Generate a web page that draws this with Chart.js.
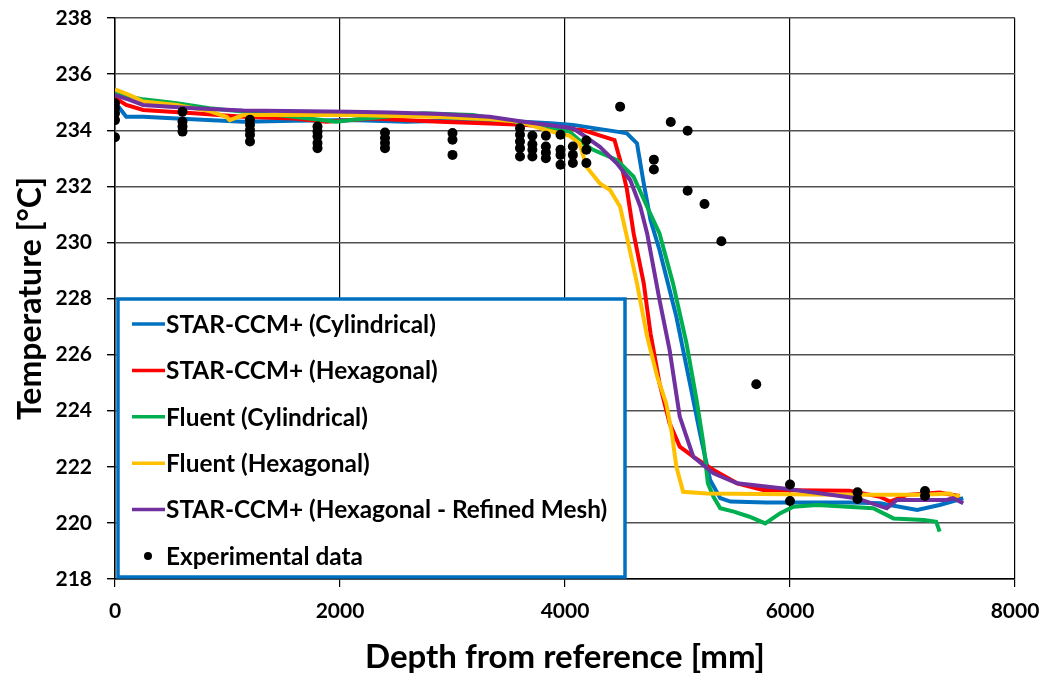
<!DOCTYPE html>
<html>
<head>
<meta charset="utf-8">
<script src="https://cdn.jsdelivr.net/npm/chart.js@4.4.1/dist/chart.umd.min.js"></script>
<style>
    html, body { margin: 0; padding: 0; background: #fff; }
    #wrap { width: 1049px; height: 680px; }
</style>
</head>
<body>
<div id="wrap"><canvas id="chart" width="1049" height="680"></canvas></div>
<script>
// STAR-CCM+ (Cylindrical)
const starCylDepth = [0, 100, 250, 550, 1140, 1590, 2090, 2590, 3190, 3630, 3870, 4070, 4460, 4550, 4640, 4700, 4760, 4840, 4990, 5110, 5200, 5290, 5380, 5470, 5790, 6530, 6800, 7130, 7330, 7540];
const starCylTemp = [235.0, 234.48, 234.48, 234.42, 234.3, 234.34, 234.36, 234.3, 234.36, 234.3, 234.25, 234.19, 233.95, 233.89, 233.53, 232.1, 230.8, 229.73, 227.35, 224.98, 223.19, 221.53, 220.88, 220.76, 220.73, 220.73, 220.7, 220.46, 220.64, 220.88];

// STAR-CCM+ (Hexagonal)
const starHexDepth = [0, 100, 250, 700, 1140, 1590, 1880, 2290, 2890, 3330, 3630, 4160, 4440, 4490, 4550, 4610, 4700, 4760, 4840, 4930, 5020, 5140, 5320, 5530, 5760, 6530, 6800, 6890, 7040, 7330, 7510];
const starHexTemp = [235.15, 234.9, 234.72, 234.6, 234.48, 234.42, 234.3, 234.42, 234.3, 234.24, 234.19, 234.0, 233.65, 232.94, 231.9, 230.32, 228.54, 226.76, 224.98, 223.55, 222.72, 222.36, 221.89, 221.41, 221.17, 221.15, 220.93, 220.76, 221.0, 221.08, 220.95];

// Fluent (Cylindrical)
const fluentCylDepth = [0, 250, 550, 840, 1290, 1590, 1970, 2090, 2740, 3180, 3480, 3780, 4040, 4160, 4250, 4460, 4610, 4730, 4840, 4960, 5080, 5170, 5230, 5270, 5320, 5380, 5500, 5640, 5780, 5910, 6030, 6240, 6740, 6920, 7190, 7300, 7330];
const fluentCylTemp = [235.3, 235.1, 234.96, 234.78, 234.6, 234.48, 234.3, 234.36, 234.6, 234.54, 234.36, 234.13, 233.95, 233.53, 233.3, 232.94, 232.34, 231.27, 230.32, 228.54, 226.4, 224.38, 222.84, 221.41, 220.93, 220.52, 220.4, 220.22, 219.98, 220.34, 220.58, 220.64, 220.52, 220.16, 220.1, 220.04, 219.69];

// Fluent (Hexagonal)
const fluentHexDepth = [0, 130, 250, 550, 840, 990, 1020, 1140, 1590, 2090, 2890, 3330, 3600, 3840, 4040, 4130, 4190, 4310, 4400, 4490, 4550, 4640, 4730, 4820, 4900, 4950, 4990, 5050, 5260, 6440, 7180, 7420, 7470, 7510];
const fluentHexTemp = [235.46, 235.25, 235.02, 234.9, 234.68, 234.48, 234.36, 234.54, 234.54, 234.54, 234.47, 234.39, 234.3, 234.0, 233.8, 233.53, 232.7, 232.1, 231.87, 231.27, 230.2, 228.54, 226.64, 225.21, 224.26, 223.19, 222.0, 221.11, 221.05, 221.0, 221.0, 221.05, 220.93, 221.0];

// STAR-CCM+ (Hexagonal - Refined Mesh)
const starRefDepth = [0, 130, 250, 700, 1140, 2090, 2440, 2890, 3330, 3630, 4070, 4160, 4310, 4460, 4580, 4670, 4730, 4840, 4930, 5020, 5140, 5320, 5530, 6000, 6590, 6860, 6950, 7390, 7450, 7540];
const starRefTemp = [235.25, 235.08, 234.9, 234.78, 234.7, 234.66, 234.63, 234.58, 234.48, 234.3, 234.07, 233.83, 233.41, 232.82, 232.22, 231.27, 230.32, 227.95, 226.16, 223.79, 222.36, 221.77, 221.41, 221.2, 220.88, 220.52, 220.82, 220.82, 220.88, 220.7];

// Experimental data
const expDepth = [
    0, 0, 0, 0, 0,
    600, 600, 600, 600,
    1200, 1200, 1200, 1200, 1200,
    1800, 1800, 1800, 1800, 1800,
    2400, 2400, 2400, 2400,
    3000, 3000, 3000,
    3600, 3600, 3600, 3600, 3600,
    3710, 3710, 3710, 3710,
    3830, 3830, 3830, 3830,
    3960, 3960, 3960, 3960,
    4070, 4070, 4070,
    4190, 4190, 4190,
    4490, 4790, 4790, 4940, 5090, 5090, 5240, 5390, 5700,
    6000, 6000, 6600, 6600, 7200, 7200
];
const expTemp = [
    234.96, 234.78, 234.6, 234.36, 233.75,
    234.66, 234.31, 234.13, 233.95,
    234.37, 234.19, 234.01, 233.84, 233.6,
    234.13, 233.95, 233.78, 233.54, 233.36,
    233.92, 233.72, 233.54, 233.36,
    233.9, 233.66, 233.12,
    234.07, 233.84, 233.6, 233.36, 233.06,
    233.8, 233.5, 233.3, 233.06,
    233.8, 233.42, 233.2, 233.0,
    233.84, 233.3, 233.12, 232.77,
    233.42, 233.12, 232.83,
    233.63, 233.3, 232.83,
    234.84, 232.95, 232.6, 234.29, 233.98, 231.84, 231.37, 230.04, 224.94,
    221.37, 220.78, 221.09, 220.85, 221.14, 220.96
];

const xTicks = [0, 2000, 4000, 6000, 8000];
const yTicks = [218, 220, 222, 224, 226, 228, 230, 232, 234, 236, 238];

const fontFamily = "Lato, 'Open Sans', sans-serif";

const toPoints = (xs, ys) => xs.map((x, i) => ({ x: x, y: ys[i] }));

function lineSet(label, xs, ys, color, order) {
    return {
        label: label,
        data: toPoints(xs, ys),
        showLine: true,
        borderColor: color,
        backgroundColor: color,
        borderWidth: 4,
        pointRadius: 0,
        tension: 0,
        order: order,
    };
}

// legend drawn as a box inside the plot, like the original
const legendBox = {
    id: "legendBox",
    afterDatasetsDraw(chart) {
        const ctx = chart.ctx;
        const area = chart.chartArea;
        const left = area.left + 3;
        const right = area.left + 510;
        const top = 299;
        const bottom = area.bottom - 2;
        ctx.save();
        ctx.fillStyle = "#fff";
        ctx.fillRect(left, top, right - left, bottom - top);
        ctx.strokeStyle = "#0070C0";
        ctx.lineWidth = 3.5;
        ctx.strokeRect(left, top, right - left, bottom - top);
        ctx.font = "bold 24.4px " + fontFamily;
        ctx.textBaseline = "middle";
        ctx.fillStyle = "#000";
        chart.data.datasets.forEach((ds, i) => {
            const y = top + 25 + i * 46.4;
            if (ds.showLine) {
                ctx.strokeStyle = ds.borderColor;
                ctx.lineWidth = 3.5;
                ctx.beginPath();
                ctx.moveTo(left + 14, y);
                ctx.lineTo(left + 47, y);
                ctx.stroke();
            } else {
                ctx.beginPath();
                ctx.arc(left + 30, y, 4, 0, Math.PI * 2);
                ctx.fill();
            }
            ctx.fillText(ds.label, left + 48, y + 1);
        });
        ctx.restore();
    },
};

new Chart(document.getElementById("chart"), {
    type: "scatter",
    data: {
        datasets: [
            lineSet("STAR-CCM+ (Cylindrical)", starCylDepth, starCylTemp, "#0070C0", 6),
            lineSet("STAR-CCM+ (Hexagonal)", starHexDepth, starHexTemp, "#FF0000", 5),
            lineSet("Fluent (Cylindrical)", fluentCylDepth, fluentCylTemp, "#00B050", 4),
            lineSet("Fluent (Hexagonal)", fluentHexDepth, fluentHexTemp, "#FFC000", 3),
            lineSet("STAR-CCM+ (Hexagonal - Refined Mesh)", starRefDepth, starRefTemp, "#7030A0", 2),
            {
                label: "Experimental data",
                data: toPoints(expDepth, expTemp),
                showLine: false,
                backgroundColor: "#000",
                borderColor: "#000",
                pointRadius: 5,
                pointBorderWidth: 0,
                order: 1,
            },
        ],
    },
    options: {
        responsive: false,
        animation: false,
        layout: { padding: { left: 0, right: 34, top: 18, bottom: 0 } },
        scales: {
            x: {
                type: "linear",
                min: 0,
                max: 8000,
                afterBuildTicks: (scale) => { scale.ticks = xTicks.map((v) => ({ value: v })); },
                afterFit: (scale) => {
                    scale.height = 101;
                    scale.paddingLeft = 0;
                    scale.paddingRight = 0;
                },
                grid: { color: "#000", lineWidth: 1.2, tickLength: 8, tickColor: "#000" },
                border: { color: "#000", width: 1.5 },
                ticks: {
                    color: "#000",
                    padding: 12,
                    maxRotation: 0,
                    callback: (v) => String(v),
                    font: { family: fontFamily, size: 21, weight: "bold" },
                },
                title: {
                    display: true,
                    text: "Depth from reference [mm]",
                    color: "#000",
                    padding: { top: 0, bottom: 3 },
                    font: { family: fontFamily, size: 33, weight: "bold" },
                },
            },
            y: {
                min: 218,
                max: 238,
                afterBuildTicks: (scale) => { scale.ticks = yTicks.map((v) => ({ value: v })); },
                afterFit: (scale) => {
                    scale.width = 115;
                    scale.paddingTop = 0;
                    scale.paddingBottom = 0;
                },
                grid: { color: "#505050", lineWidth: 1.4, tickLength: 8, tickColor: "#000" },
                border: { color: "#000", width: 1.5 },
                ticks: {
                    color: "#000",
                    padding: 15,
                    font: { family: fontFamily, size: 21, weight: "bold" },
                },
                title: {
                    display: true,
                    text: "Temperature [°C]",
                    color: "#000",
                    padding: { top: 11, bottom: 0 },
                    font: { family: fontFamily, size: 32, weight: "bold" },
                },
            },
        },
        plugins: {
            legend: { display: false },
            tooltip: { enabled: false },
        },
    },
    plugins: [legendBox],
});
</script>
</body>
</html>
